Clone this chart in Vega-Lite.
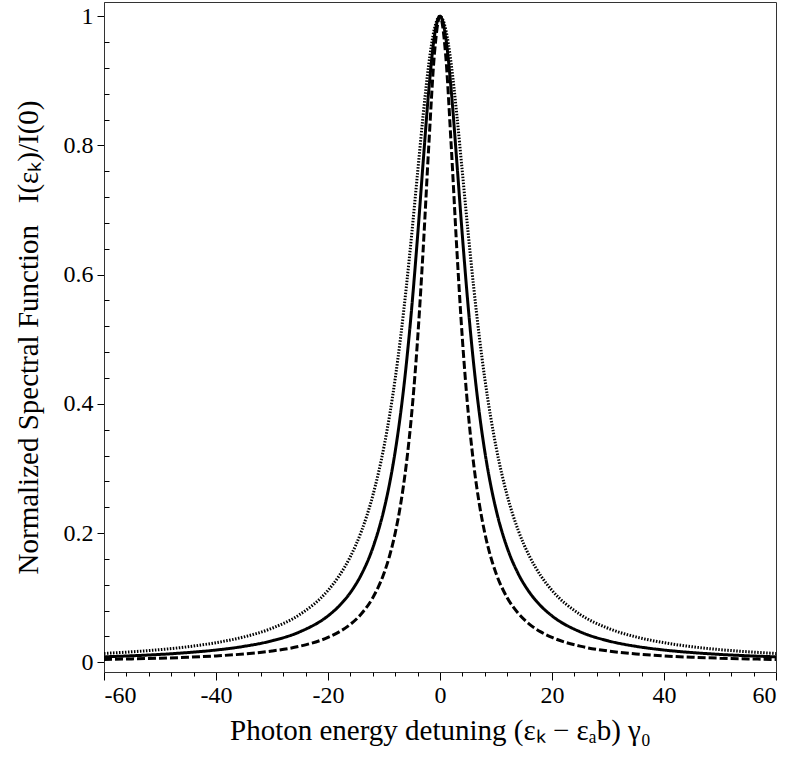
{
  "$schema": "https://vega.github.io/schema/vega-lite/v6.json",
  "width": 672,
  "height": 670,
  "autosize": "none",
  "padding": {"left": 104, "top": 2, "right": 15, "bottom": 85},
  "background": "white",
  "config": {
    "font": "Liberation Serif",
    "view": {"stroke": "#333", "strokeWidth": 1},
    "axis": {
      "grid": false,
      "labelFont": "Liberation Serif",
      "titleFont": "Liberation Serif",
      "labelFontSize": 24,
      "titleFontSize": 29,
      "titleFontWeight": "normal",
      "labelColor": "black",
      "titleColor": "black",
      "tickColor": "black",
      "domainColor": "#333"
    }
  },
  "data": {
    "values": [
      {"x": -60, "y": 0.0137, "s": "dotted"}, {"x": -55, "y": 0.0163, "s": "dotted"}, {"x": -50, "y": 0.0196, "s": "dotted"}, {"x": -45, "y": 0.0241, "s": "dotted"}, {"x": -40, "y": 0.0304, "s": "dotted"}, {"x": -35, "y": 0.0393, "s": "dotted"}, {"x": -30, "y": 0.0527, "s": "dotted"}, {"x": -25, "y": 0.0742, "s": "dotted"}, {"x": -20, "y": 0.1113, "s": "dotted"}, {"x": -18, "y": 0.1339, "s": "dotted"}, {"x": -16, "y": 0.1637, "s": "dotted"}, {"x": -14, "y": 0.2036, "s": "dotted"}, {"x": -12, "y": 0.2581, "s": "dotted"}, {"x": -10, "y": 0.3338, "s": "dotted"}, {"x": -9, "y": 0.3822, "s": "dotted"}, {"x": -8, "y": 0.4391, "s": "dotted"}, {"x": -7, "y": 0.5055, "s": "dotted"}, {"x": -6, "y": 0.5819, "s": "dotted"}, {"x": -5, "y": 0.6671, "s": "dotted"}, {"x": -4, "y": 0.7579, "s": "dotted"}, {"x": -3, "y": 0.8477, "s": "dotted"}, {"x": -2, "y": 0.9261, "s": "dotted"}, {"x": -1, "y": 0.9804, "s": "dotted"}, {"x": 0, "y": 1, "s": "dotted"}, {"x": 1, "y": 0.9804, "s": "dotted"}, {"x": 2, "y": 0.9261, "s": "dotted"}, {"x": 3, "y": 0.8477, "s": "dotted"}, {"x": 4, "y": 0.7579, "s": "dotted"}, {"x": 5, "y": 0.6671, "s": "dotted"}, {"x": 6, "y": 0.5819, "s": "dotted"}, {"x": 7, "y": 0.5055, "s": "dotted"}, {"x": 8, "y": 0.4391, "s": "dotted"}, {"x": 9, "y": 0.3822, "s": "dotted"}, {"x": 10, "y": 0.3338, "s": "dotted"}, {"x": 12, "y": 0.2581, "s": "dotted"}, {"x": 14, "y": 0.2036, "s": "dotted"}, {"x": 16, "y": 0.1637, "s": "dotted"}, {"x": 18, "y": 0.1339, "s": "dotted"}, {"x": 20, "y": 0.1113, "s": "dotted"}, {"x": 25, "y": 0.0742, "s": "dotted"}, {"x": 30, "y": 0.0527, "s": "dotted"}, {"x": 35, "y": 0.0393, "s": "dotted"}, {"x": 40, "y": 0.0304, "s": "dotted"}, {"x": 45, "y": 0.0241, "s": "dotted"}, {"x": 50, "y": 0.0196, "s": "dotted"}, {"x": 55, "y": 0.0163, "s": "dotted"}, {"x": 60, "y": 0.0137, "s": "dotted"},
      {"x": -60, "y": 0.0085, "s": "solid"}, {"x": -55, "y": 0.0101, "s": "solid"}, {"x": -50, "y": 0.0122, "s": "solid"}, {"x": -45, "y": 0.0151, "s": "solid"}, {"x": -40, "y": 0.019, "s": "solid"}, {"x": -35, "y": 0.0247, "s": "solid"}, {"x": -30, "y": 0.0333, "s": "solid"}, {"x": -25, "y": 0.0473, "s": "solid"}, {"x": -20, "y": 0.0719, "s": "solid"}, {"x": -18, "y": 0.0873, "s": "solid"}, {"x": -16, "y": 0.108, "s": "solid"}, {"x": -14, "y": 0.1366, "s": "solid"}, {"x": -12, "y": 0.1771, "s": "solid"}, {"x": -10, "y": 0.2366, "s": "solid"}, {"x": -9, "y": 0.2768, "s": "solid"}, {"x": -8, "y": 0.3263, "s": "solid"}, {"x": -7, "y": 0.3875, "s": "solid"}, {"x": -6, "y": 0.4627, "s": "solid"}, {"x": -5, "y": 0.5536, "s": "solid"}, {"x": -4, "y": 0.6596, "s": "solid"}, {"x": -3, "y": 0.775, "s": "solid"}, {"x": -2, "y": 0.8857, "s": "solid"}, {"x": -1, "y": 0.9688, "s": "solid"}, {"x": 0, "y": 1, "s": "solid"}, {"x": 1, "y": 0.9688, "s": "solid"}, {"x": 2, "y": 0.8857, "s": "solid"}, {"x": 3, "y": 0.775, "s": "solid"}, {"x": 4, "y": 0.6596, "s": "solid"}, {"x": 5, "y": 0.5536, "s": "solid"}, {"x": 6, "y": 0.4627, "s": "solid"}, {"x": 7, "y": 0.3875, "s": "solid"}, {"x": 8, "y": 0.3263, "s": "solid"}, {"x": 9, "y": 0.2768, "s": "solid"}, {"x": 10, "y": 0.2366, "s": "solid"}, {"x": 12, "y": 0.1771, "s": "solid"}, {"x": 14, "y": 0.1366, "s": "solid"}, {"x": 16, "y": 0.108, "s": "solid"}, {"x": 18, "y": 0.0873, "s": "solid"}, {"x": 20, "y": 0.0719, "s": "solid"}, {"x": 25, "y": 0.0473, "s": "solid"}, {"x": 30, "y": 0.0333, "s": "solid"}, {"x": 35, "y": 0.0247, "s": "solid"}, {"x": 40, "y": 0.019, "s": "solid"}, {"x": 45, "y": 0.0151, "s": "solid"}, {"x": 50, "y": 0.0122, "s": "solid"}, {"x": 55, "y": 0.0101, "s": "solid"}, {"x": 60, "y": 0.0085, "s": "solid"},
      {"x": -60, "y": 0.0044, "s": "dashed"}, {"x": -55, "y": 0.0053, "s": "dashed"}, {"x": -50, "y": 0.0064, "s": "dashed"}, {"x": -45, "y": 0.0078, "s": "dashed"}, {"x": -40, "y": 0.0099, "s": "dashed"}, {"x": -35, "y": 0.0129, "s": "dashed"}, {"x": -30, "y": 0.0175, "s": "dashed"}, {"x": -25, "y": 0.025, "s": "dashed"}, {"x": -20, "y": 0.0385, "s": "dashed"}, {"x": -18, "y": 0.0471, "s": "dashed"}, {"x": -16, "y": 0.0588, "s": "dashed"}, {"x": -14, "y": 0.0755, "s": "dashed"}, {"x": -12, "y": 0.1, "s": "dashed"}, {"x": -10, "y": 0.1379, "s": "dashed"}, {"x": -9, "y": 0.1649, "s": "dashed"}, {"x": -8, "y": 0.2, "s": "dashed"}, {"x": -7, "y": 0.2462, "s": "dashed"}, {"x": -6, "y": 0.3077, "s": "dashed"}, {"x": -5, "y": 0.3902, "s": "dashed"}, {"x": -4, "y": 0.5, "s": "dashed"}, {"x": -3, "y": 0.64, "s": "dashed"}, {"x": -2, "y": 0.8, "s": "dashed"}, {"x": -1, "y": 0.9412, "s": "dashed"}, {"x": 0, "y": 1, "s": "dashed"}, {"x": 1, "y": 0.9412, "s": "dashed"}, {"x": 2, "y": 0.8, "s": "dashed"}, {"x": 3, "y": 0.64, "s": "dashed"}, {"x": 4, "y": 0.5, "s": "dashed"}, {"x": 5, "y": 0.3902, "s": "dashed"}, {"x": 6, "y": 0.3077, "s": "dashed"}, {"x": 7, "y": 0.2462, "s": "dashed"}, {"x": 8, "y": 0.2, "s": "dashed"}, {"x": 9, "y": 0.1649, "s": "dashed"}, {"x": 10, "y": 0.1379, "s": "dashed"}, {"x": 12, "y": 0.1, "s": "dashed"}, {"x": 14, "y": 0.0755, "s": "dashed"}, {"x": 16, "y": 0.0588, "s": "dashed"}, {"x": 18, "y": 0.0471, "s": "dashed"}, {"x": 20, "y": 0.0385, "s": "dashed"}, {"x": 25, "y": 0.025, "s": "dashed"}, {"x": 30, "y": 0.0175, "s": "dashed"}, {"x": 35, "y": 0.0129, "s": "dashed"}, {"x": 40, "y": 0.0099, "s": "dashed"}, {"x": 45, "y": 0.0078, "s": "dashed"}, {"x": 50, "y": 0.0064, "s": "dashed"}, {"x": 55, "y": 0.0053, "s": "dashed"}, {"x": 60, "y": 0.0044, "s": "dashed"}
    ]
  },
  "layer": [
    {
      "mark": {"type": "line", "interpolate": "monotone", "strokeWidth": 3, "color": "black", "clip": true},
      "encoding": {
        "x": {
          "field": "x", "type": "quantitative",
          "scale": {"domain": [-60, 60], "nice": false, "zero": false},
          "axis": {
            "orient": "bottom",
            "values": [-60, -40, -20, 0, 20, 40, 60],
            "labelExpr": "datum.value",
            "labelFlush": true,
            "tickSize": 8,
            "labelPadding": 3,
            "title": "Photon energy detuning (εₖ − εₐb) γ₀",
            "titlePadding": 9
          }
        },
        "y": {
          "field": "y", "type": "quantitative",
          "scale": {"domain": [-0.015, 1.022], "nice": false, "zero": false},
          "axis": {
            "orient": "left",
            "values": [0, 0.2, 0.4, 0.6, 0.8, 1],
            "labelExpr": "datum.value",
            "tickSize": 7,
            "labelPadding": 4,
            "title": "Normalized Spectral Function\u00a0\u00a0\u00a0I(εₖ)/I(0)",
            "titlePadding": 20
          }
        },
        "strokeDash": {
          "field": "s", "type": "nominal",
          "scale": {"domain": ["dotted", "solid", "dashed"], "range": [[1.5, 1.5], [1, 0], [8, 3]]},
          "legend": null
        }
      }
    },
    {
      "mark": {"type": "line", "strokeOpacity": 0},
      "encoding": {
        "x": {
          "field": "x", "type": "quantitative",
          "axis": {
            "orient": "bottom",
            "values": [-56, -52, -48, -44, -36, -32, -28, -24, -16, -12, -8, -4, 4, 8, 12, 16, 24, 28, 32, 36, 44, 48, 52, 56],
            "labels": false, "domain": false, "tickSize": 4, "title": null
          }
        },
        "y": {
          "field": "y", "type": "quantitative",
          "axis": {
            "orient": "left",
            "values": [0.04, 0.08, 0.12, 0.16, 0.24, 0.28, 0.32, 0.36, 0.44, 0.48, 0.52, 0.56, 0.64, 0.68, 0.72, 0.76, 0.84, 0.88, 0.92, 0.96],
            "labels": false, "domain": false, "tickSize": -5, "title": null
          }
        },
        "detail": {"field": "s", "type": "nominal"}
      }
    }
  ],
  "resolve": {"axis": {"x": "independent", "y": "independent"}}
}
